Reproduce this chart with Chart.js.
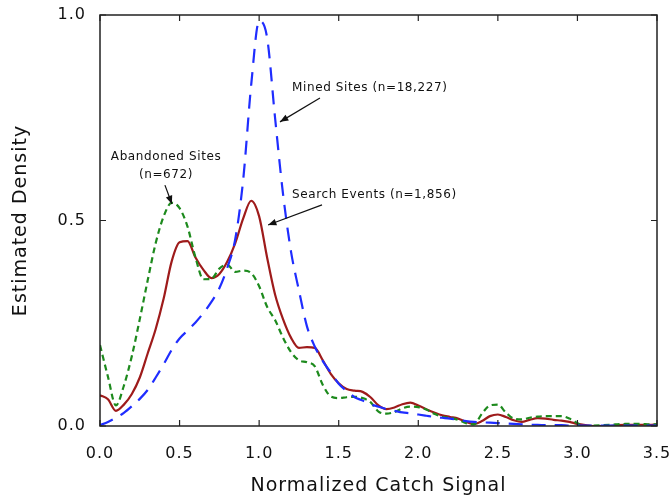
<!DOCTYPE html>
<html>
<head>
<meta charset="utf-8">
<script src="https://cdn.jsdelivr.net/npm/chart.js@4"></script>
<style>
  html, body { margin: 0; padding: 0; background: #fff; }
  #wrap { width: 671px; height: 498px; }
</style>
</head>
<body>
<div id="wrap"><canvas id="kde"></canvas></div>
<script>
// signal values, step 0.05 from 0 to 3.5
const signal = [
  0.00, 0.05, 0.10, 0.15, 0.20, 0.25, 0.30, 0.35, 0.40, 0.45,
  0.50, 0.55, 0.60, 0.65, 0.70, 0.75, 0.80, 0.85, 0.90, 0.95,
  1.00, 1.05, 1.10, 1.15, 1.20, 1.25, 1.30, 1.35, 1.40, 1.45,
  1.50, 1.55, 1.60, 1.65, 1.70, 1.75, 1.80, 1.85, 1.90, 1.95,
  2.00, 2.05, 2.10, 2.15, 2.20, 2.25, 2.30, 2.35, 2.40, 2.45,
  2.50, 2.55, 2.60, 2.65, 2.70, 2.75, 2.80, 2.85, 2.90, 2.95,
  3.00, 3.05, 3.10, 3.15, 3.20, 3.25, 3.30, 3.35, 3.40, 3.45,
  3.50
];

const minedSites = [
  0.002, 0.010, 0.020, 0.032, 0.048, 0.066, 0.088, 0.118, 0.150, 0.185,
  0.213, 0.232, 0.252, 0.275, 0.302, 0.335, 0.385, 0.455, 0.600, 0.830,
  0.985, 0.945, 0.750, 0.565, 0.425, 0.330, 0.243, 0.193, 0.158, 0.130,
  0.103, 0.085, 0.070, 0.062, 0.053, 0.047, 0.041, 0.037, 0.033, 0.031,
  0.028, 0.025, 0.022, 0.020, 0.018, 0.015, 0.012, 0.010, 0.009, 0.008,
  0.007, 0.006, 0.005, 0.004, 0.003, 0.003, 0.002, 0.002, 0.002, 0.001,
  0.001, 0.001, 0.001, 0.001, 0.001, 0.001, 0.001, 0.001, 0.001, 0.001,
  0.001
];

const searchEvents = [
  0.075, 0.065, 0.037, 0.052, 0.078, 0.118, 0.177, 0.236, 0.310, 0.400,
  0.447, 0.450, 0.410, 0.380, 0.360, 0.370, 0.400, 0.445, 0.505, 0.548,
  0.510, 0.410, 0.320, 0.260, 0.215, 0.190, 0.192, 0.190, 0.160, 0.127,
  0.104, 0.090, 0.086, 0.083, 0.070, 0.050, 0.041, 0.045, 0.053, 0.057,
  0.050, 0.041, 0.033, 0.026, 0.022, 0.018, 0.010, 0.005, 0.012, 0.024,
  0.028, 0.022, 0.014, 0.010, 0.015, 0.019, 0.018, 0.015, 0.013, 0.010,
  0.005, 0.002, 0.000, 0.000, 0.000, 0.002, 0.003, 0.003, 0.003, 0.003,
  0.004
];

const abandonedSites = [
  0.197, 0.120, 0.050, 0.098, 0.170, 0.260, 0.355, 0.445, 0.510, 0.543,
  0.530, 0.485, 0.410, 0.357, 0.358, 0.383, 0.392, 0.375, 0.378, 0.372,
  0.340, 0.290, 0.258, 0.215, 0.180, 0.160, 0.155, 0.145, 0.100, 0.072,
  0.068, 0.070, 0.071, 0.068, 0.058, 0.035, 0.030, 0.034, 0.043, 0.047,
  0.046, 0.040, 0.030, 0.022, 0.020, 0.015, 0.007, 0.004, 0.030, 0.050,
  0.052, 0.033, 0.018, 0.016, 0.020, 0.023, 0.024, 0.024, 0.024, 0.018,
  0.007, 0.000, 0.001, 0.002, 0.003, 0.004, 0.005, 0.005, 0.005, 0.004,
  0.004
];

const xTicks = [0, 0.5, 1.0, 1.5, 2.0, 2.5, 3.0, 3.5];
const yTicks = [0, 0.5, 1.0];

// callouts: text anchor and arrow tail -> head, in data units
const callouts = [
  { lines: ['Mined Sites (n=18,227)'], align: 'left', tx: 1.207, ty: 0.822, from: [1.382, 0.798], to: [1.131, 0.740] },
  { lines: ['Search Events (n=1,856)'], align: 'left', tx: 1.207, ty: 0.562, from: [1.395, 0.538], to: [1.056, 0.489] },
  { lines: ['Abandoned Sites', '(n=672)'], align: 'center', tx: 0.415, ty: 0.654, from: [0.408, 0.586], to: [0.452, 0.540] }
];

const pts = vals => signal.map((s, i) => ({ x: s, y: vals[i] }));

const frameAndNotes = {
  id: 'frameAndNotes',
  beforeDraw(chart) {
    chart.ctx.letterSpacing = '1px';
  },
  afterDraw(chart) {
    const { ctx, chartArea: a, scales: { x, y } } = chart;
    ctx.save();
    ctx.letterSpacing = '0px';
    ctx.strokeStyle = '#222';
    ctx.lineWidth = 1.5;
    ctx.strokeRect(a.left, a.top, a.right - a.left, a.bottom - a.top);
    ctx.lineWidth = 1.2;
    ctx.beginPath();
    xTicks.forEach(v => {
      const px = x.getPixelForValue(v);
      ctx.moveTo(px, a.bottom); ctx.lineTo(px, a.bottom - 6);
      ctx.moveTo(px, a.top); ctx.lineTo(px, a.top + 6);
    });
    yTicks.forEach(v => {
      const py = y.getPixelForValue(v);
      ctx.moveTo(a.left, py); ctx.lineTo(a.left + 6, py);
      ctx.moveTo(a.right, py); ctx.lineTo(a.right - 6, py);
    });
    ctx.stroke();

    ctx.fillStyle = '#111';
    ctx.strokeStyle = '#111';
    ctx.font = '12px "DejaVu Sans"';
    ctx.textBaseline = 'middle';
    callouts.forEach(c => {
      ctx.letterSpacing = '0.6px';
      ctx.textAlign = c.align;
      const tx = x.getPixelForValue(c.tx);
      const ty = y.getPixelForValue(c.ty);
      c.lines.forEach((t, i) => ctx.fillText(t, tx, ty + i * 18));
      ctx.letterSpacing = '0px';
      const x0 = x.getPixelForValue(c.from[0]), y0 = y.getPixelForValue(c.from[1]);
      const x1 = x.getPixelForValue(c.to[0]), y1 = y.getPixelForValue(c.to[1]);
      ctx.lineWidth = 1.2;
      ctx.beginPath();
      ctx.moveTo(x0, y0); ctx.lineTo(x1, y1);
      ctx.stroke();
      const ang = Math.atan2(y1 - y0, x1 - x0);
      ctx.beginPath();
      ctx.moveTo(x1, y1);
      ctx.lineTo(x1 - 9 * Math.cos(ang - 0.38), y1 - 9 * Math.sin(ang - 0.38));
      ctx.lineTo(x1 - 9 * Math.cos(ang + 0.38), y1 - 9 * Math.sin(ang + 0.38));
      ctx.closePath();
      ctx.fill();
    });
    ctx.restore();
  }
};

new Chart(document.getElementById('kde'), {
  type: 'line',
  data: {
    datasets: [
      { label: 'Mined Sites', data: pts(minedSites), borderColor: '#1f2dff', borderWidth: 2.2, borderDash: [14, 9] },
      { label: 'Abandoned Sites', data: pts(abandonedSites), borderColor: '#1d8a1d', borderWidth: 2.2, borderDash: [6, 4] },
      { label: 'Search Events', data: pts(searchEvents), borderColor: '#9e1b1b', borderWidth: 2.2 }
    ]
  },
  options: {
    responsive: true,
    maintainAspectRatio: false,
    animation: false,
    events: [],
    elements: { point: { radius: 0 }, line: { tension: 0.4, cubicInterpolationMode: 'monotone' } },
    layout: { padding: { left: 0, right: 14, top: 15, bottom: 0 } },
    plugins: { legend: { display: false }, tooltip: { enabled: false } },
    scales: {
      x: {
        type: 'linear', min: 0, max: 3.5,
        grid: { display: false, drawTicks: false },
        border: { display: false },
        afterBuildTicks: s => { s.ticks = xTicks.map(v => ({ value: v })); },
        afterFit: s => { s.height = 72; s.paddingLeft = 0; s.paddingRight = 0; },
        ticks: { color: '#111', padding: 18, maxRotation: 0, font: { family: 'DejaVu Sans', size: 16 }, callback: v => v.toFixed(1) },
        title: { display: true, text: 'Normalized Catch Signal', color: '#111', padding: { top: 0, bottom: 1 }, font: { family: 'DejaVu Sans', size: 19 } }
      },
      y: {
        min: 0, max: 1,
        grid: { display: false, drawTicks: false },
        border: { display: false },
        afterBuildTicks: s => { s.ticks = yTicks.map(v => ({ value: v })); },
        afterFit: s => { s.width = 100; s.paddingTop = 0; s.paddingBottom = 0; },
        ticks: { color: '#111', padding: 14, font: { family: 'DejaVu Sans', size: 16 }, callback: v => v.toFixed(1) },
        title: { display: true, text: 'Estimated Density', color: '#111', padding: { top: 10, bottom: 0 }, font: { family: 'DejaVu Sans', size: 19 } }
      }
    }
  },
  plugins: [frameAndNotes]
});
</script>
</body>
</html>
